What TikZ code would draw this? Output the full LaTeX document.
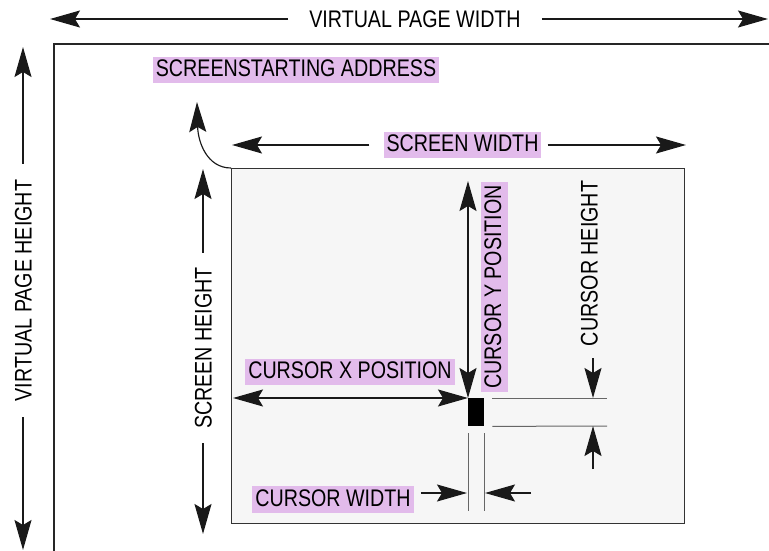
\documentclass[tikz,border=0pt]{standalone}
\usepackage{fontspec}
\setmainfont{Liberation Sans}[FakeStretch=0.82]
\usetikzlibrary{arrows.meta}
\definecolor{hilite}{RGB}{226,187,235}
\definecolor{scrfill}{RGB}{246,246,246}

\begin{document}
\begin{tikzpicture}[
        x=1pt, y=-1pt,
        >={Stealth[length=30pt,width=17pt,inset=5pt]},
        every node/.style={font=\fontsize{24}{26}\selectfont},
        lbl/.style={inner ysep=0pt, text height=17.2pt, text depth=0pt},
        hlbox/.style={fill=hilite, inner xsep=3pt, inner ysep=0pt,
        text height=19.6pt, text depth=6.6pt},
        dim/.style={line width=1.15pt, draw=black!90},
        ext/.style={line width=1pt, draw=black!60},
        ]

        \useasboundingbox (0,0) rectangle (769,551);

        \coordinate (pgTL) at (54,44);
        \coordinate (pgTR) at (769,44);
        \coordinate (pgBL) at (54,551);
        \draw[line width=1.2pt, black!85] (pgTR) -- (pgTL) -- (pgBL);

        \node (scr) [draw=black!80, line width=1.1pt, fill=scrfill, inner sep=0pt,
        minimum width=453pt, minimum height=355pt, anchor=north west] at (231,168) {};
        \node (cur) [fill=black, inner sep=0pt, minimum width=16pt,
        minimum height=28pt, anchor=north west] at (468,398) {};

        \node (vpw) [lbl, inner xsep=21pt] at (415,19) {VIRTUAL PAGE WIDTH};
        \node (vph) [lbl, inner xsep=16pt, rotate=90] at (23,290.5) {VIRTUAL PAGE HEIGHT};
        \node (ssa) [hlbox] at (296,70) {SCREENSTARTING ADDRESS};
        \node (sw) [hlbox] at (462.5,145) {SCREEN WIDTH};
        \node (sh) [lbl, inner xsep=14pt, rotate=90] at (203,348) {SCREEN HEIGHT};
        \node (cx) [hlbox] at (350,372) {CURSOR X POSITION};
        \node (cy) [hlbox, rotate=90] at (494.5,287) {CURSOR Y POSITION};
        \node (ch) [lbl, inner xsep=12pt, rotate=90] at (589,263.5) {CURSOR HEIGHT};
        \node (cw) [hlbox] at (333,499.5) {CURSOR WIDTH};

        \coordinate (vpwL) at (50,19);
        \coordinate (vpwR) at (768,19);
        \coordinate (vphT) at (23,47);
        \coordinate (vphB) at (23,550);
        \coordinate (ssaT) at (197,102);
        \coordinate (swL) at (232,145);
        \coordinate (swR) at (686,145);
        \coordinate (shT) at (203,169);
        \coordinate (shB) at (203,534);
        \coordinate (cxL) at (233,398);
        \coordinate (cyT) at (468,181);
        \coordinate (htT) at (607,398);
        \coordinate (htB) at (607,426);
        \coordinate (chA) at (593,398);
        \coordinate (chB) at (593,469);
        \coordinate (chC) at (593,426);
        \coordinate (cwL1) at (468,433);
        \coordinate (cwL2) at (468,511);
        \coordinate (cwR1) at (484,433);
        \coordinate (cwR2) at (484,511);
        \coordinate (cwB) at (467,493);
        \coordinate (cwC) at (531,493);
        \coordinate (cwD) at (485,493);

        \draw[dim,->] (vpw) -- (vpwL);
        \draw[dim,->] (vpw) -- (vpwR);
        \draw[dim,->] (vph) -- (vphT);
        \draw[dim,->] (vph) -- (vphB);
        \draw[dim,->] (scr.north west) .. controls (207,168) and (198,142) .. (ssaT);
        \draw[dim,->, shorten <=14pt] (sw.west) -- (swL);
        \draw[dim,->, shorten <=6pt] (sw.east) -- (swR);
        \draw[dim,->] (sh) -- (shT);
        \draw[dim,->] (sh) -- (shB);
        \draw[dim,<->] (cxL) -- (cur.north west);
        \draw[dim,<->] (cyT) -- (cur.north west);
        \draw[ext] ([xshift=8pt]cur.north east) -- (htT);
        \draw[ext] ([xshift=8pt]cur.south east) -- (htB);
        \draw[dim,->] (ch.west -| chA) -- (chA);
        \draw[dim,->] (chB) -- (chC);
        \draw[ext] (cwL1) -- (cwL2);
        \draw[ext] (cwR1) -- (cwR2);
        \draw[dim,->, shorten <=7pt] (cw.east |- cwB) -- (cwB);
        \draw[dim,->] (cwC) -- (cwD);
    \end{tikzpicture}
\end{document}
